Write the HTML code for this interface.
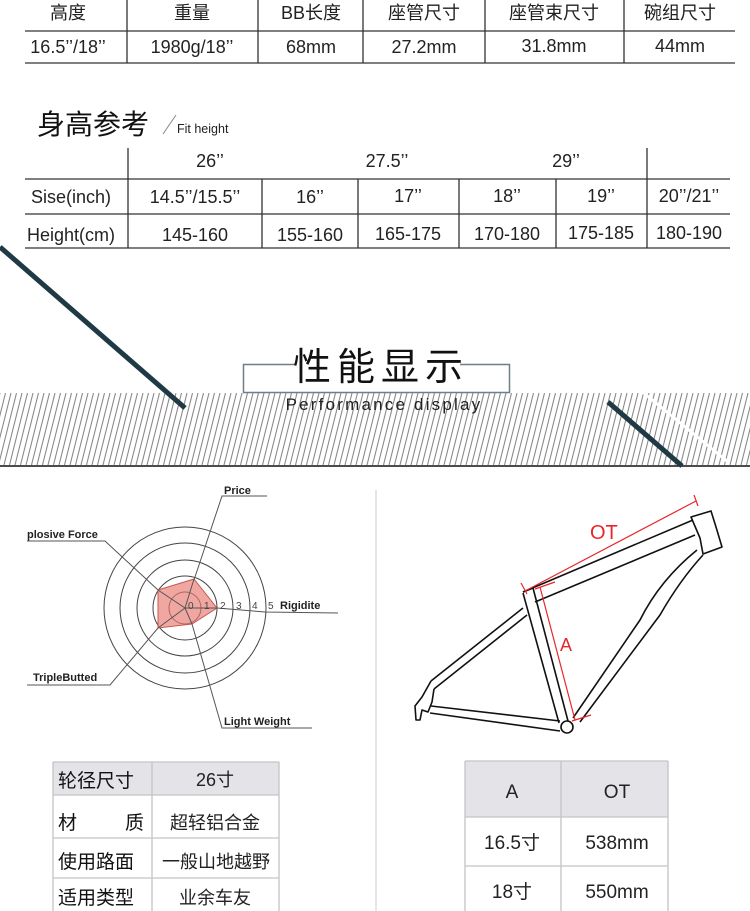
<!DOCTYPE html>
<html><head><meta charset="utf-8"><style>
body{margin:0;background:#fff;width:750px;height:911px;overflow:hidden;}
svg{display:block;font-family:"Liberation Sans","Noto Sans CJK SC",sans-serif;}
</style></head><body>
<svg width="750" height="911" viewBox="0 0 750 911" xmlns="http://www.w3.org/2000/svg">
<defs>
<pattern id="h" patternUnits="userSpaceOnUse" width="5.5" height="72" x="0" y="393">
<line x1="-18" y1="72" x2="0" y2="0" stroke="#8a8a8a" stroke-width="1.1"/>
<line x1="-12.5" y1="72" x2="5.5" y2="0" stroke="#8a8a8a" stroke-width="1.1"/>
<line x1="-7" y1="72" x2="11" y2="0" stroke="#8a8a8a" stroke-width="1.1"/>
<line x1="-1.5" y1="72" x2="16.5" y2="0" stroke="#8a8a8a" stroke-width="1.1"/>
<line x1="4" y1="72" x2="22" y2="0" stroke="#8a8a8a" stroke-width="1.1"/>
</pattern>
</defs>
<!-- top table -->
<g stroke="#333" stroke-width="1.3">
<line x1="25" y1="31" x2="735" y2="31"/><line x1="25" y1="63" x2="735" y2="63"/>
<line x1="127" y1="0" x2="127" y2="63"/><line x1="258" y1="0" x2="258" y2="63"/>
<line x1="363" y1="0" x2="363" y2="63"/><line x1="485" y1="0" x2="485" y2="63"/>
<line x1="624" y1="0" x2="624" y2="63"/>
</g>
<g font-size="18" fill="#222" text-anchor="middle">
<text x="68" y="19">高度</text><text x="192" y="19">重量</text><text x="311" y="19">BB长度</text>
<text x="424" y="19">座管尺寸</text><text x="554" y="19">座管束尺寸</text><text x="680" y="19">碗组尺寸</text>
<text x="68" y="53">16.5’’/18’’</text><text x="192" y="53">1980g/18’’</text><text x="311" y="53">68mm</text>
<text x="424" y="53">27.2mm</text><text x="554" y="52">31.8mm</text><text x="680" y="52">44mm</text>
</g>
<text x="37" y="134" font-size="28" fill="#111">身高参考</text>
<line x1="163" y1="134" x2="176" y2="115" stroke="#888" stroke-width="1"/>
<text x="177" y="133" font-size="12.5" fill="#222">Fit height</text>
<!-- height table -->
<g stroke="#333" stroke-width="1.3">
<line x1="25" y1="179" x2="730" y2="179"/><line x1="25" y1="214" x2="730" y2="214"/><line x1="25" y1="248" x2="730" y2="248"/>
<line x1="128" y1="148" x2="128" y2="248"/><line x1="647" y1="148" x2="647" y2="248"/>
<line x1="262" y1="179" x2="262" y2="248"/><line x1="358" y1="179" x2="358" y2="248"/>
<line x1="459" y1="179" x2="459" y2="248"/><line x1="556" y1="179" x2="556" y2="248"/>
</g>
<g font-size="18" fill="#222" text-anchor="middle">
<text x="210" y="167">26’’</text><text x="387" y="167">27.5’’</text><text x="566" y="167">29’’</text>
<text x="71" y="203">Sise(inch)</text><text x="195" y="203">14.5’’/15.5’’</text><text x="310" y="203">16’’</text>
<text x="408" y="202">17’’</text><text x="507" y="202">18’’</text><text x="601" y="202">19’’</text><text x="689" y="202">20’’/21’’</text>
<text x="71" y="241">Height(cm)</text><text x="195" y="241">145-160</text><text x="310" y="241">155-160</text>
<text x="408" y="240">165-175</text><text x="507" y="240">170-180</text><text x="601" y="239">175-185</text><text x="689" y="239">180-190</text>
</g>
<!-- hatch band -->
<rect x="0" y="393" width="750" height="72" fill="url(#h)"/>
<line x1="0" y1="466" x2="750" y2="466" stroke="#111" stroke-width="1.5"/>
<line x1="640" y1="390" x2="728" y2="462" stroke="#fff" stroke-width="3"/>
<line x1="0" y1="247" x2="185" y2="408" stroke="#1f3a44" stroke-width="5"/>
<line x1="608" y1="402" x2="682" y2="466" stroke="#1f3a44" stroke-width="5"/>
<!-- title box -->
<rect x="243.5" y="364.5" width="266" height="28" fill="#fff" stroke="#6d7f88" stroke-width="1.5"/>
<rect x="295" y="355" width="165" height="20" fill="#fff"/>
<text x="381" y="380" font-size="38" fill="#111" text-anchor="middle" letter-spacing="6">性能显示</text>
<text x="384" y="410" font-size="17" fill="#222" text-anchor="middle" letter-spacing="2.2">Performance display</text>
<line x1="376" y1="490" x2="376" y2="911" stroke="#ccc" stroke-width="1"/>
<!-- radar -->
<g fill="none" stroke="#444" stroke-width="1">
<circle cx="185" cy="608" r="16"/><circle cx="185" cy="608" r="32"/><circle cx="185" cy="608" r="48"/>
<circle cx="185" cy="608" r="65"/><circle cx="185" cy="608" r="81"/>
</g>
<polygon points="194,579 217,608 192,624 158,628 158,590" fill="#e8786e" fill-opacity="0.65" stroke="#c9574f" stroke-width="1"/>
<g stroke="#555" stroke-width="1" fill="none">
<line x1="185" y1="608" x2="194" y2="579"/><line x1="185" y1="608" x2="217" y2="608"/>
<line x1="185" y1="608" x2="192" y2="624"/><line x1="185" y1="608" x2="158" y2="628"/><line x1="185" y1="608" x2="158" y2="590"/>
<polyline points="194,580 222,496 267,496"/>
<polyline points="158,590 105,541 27,541"/>
<polyline points="158,628 110,685 27,685"/>
<polyline points="217,608 265,612 338,613"/>
<polyline points="192,624 222,728 312,728"/>
</g>
<g font-size="10" fill="#444"><text x="188" y="609">0</text><text x="204" y="609">1</text><text x="220" y="609">2</text><text x="236" y="609">3</text><text x="252" y="609">4</text><text x="268" y="609">5</text></g>
<g font-size="11" font-weight="bold" fill="#222">
<text x="224" y="494">Price</text><text x="27" y="538">plosive Force</text><text x="280" y="609">Rigidite</text>
<text x="33" y="681">TripleButted</text><text x="224" y="725">Light Weight</text>
</g>
<!-- frame -->
<g fill="none" stroke="#111" stroke-width="1.6" stroke-linejoin="round">
<path d="M691,517 L711,511 L716,527 L722,547 L703,554 L700,538 Z"/>
<line x1="523" y1="592" x2="693" y2="520"/><line x1="535" y1="602" x2="695" y2="535"/>
<line x1="523" y1="593" x2="559" y2="723"/><line x1="533" y1="588" x2="568" y2="721"/>
<line x1="523" y1="592" x2="533" y2="588"/>
<path d="M697,550 Q660,580 640,620 L573,718"/><path d="M703,555 Q680,580 660,615 L580,722"/>
<line x1="523" y1="608" x2="431" y2="681"/><line x1="527" y1="615" x2="434" y2="689"/>
<line x1="431" y1="706" x2="560" y2="721"/><line x1="430" y1="713" x2="560" y2="731"/>
<path d="M431,681 L422,697 L415,706 L416,720 L420,720 L422,710 L428,712 L432,702 L434,689"/>
<circle cx="567" cy="727" r="6"/>
</g>
<g stroke="#e8262a" stroke-width="1.2">
<line x1="525" y1="591" x2="696" y2="501"/><line x1="521" y1="583" x2="527" y2="594"/><line x1="694" y1="495" x2="698" y2="506"/>
<line x1="540" y1="587" x2="575" y2="720"/><line x1="535" y1="589" x2="555" y2="582"/><line x1="572" y1="721" x2="591" y2="715"/>
</g>
<text x="590" y="539" font-size="20" fill="#e8262a">OT</text>
<text x="560" y="651" font-size="18" fill="#e8262a">A</text>
<!-- left table -->
<rect x="53" y="762" width="226" height="33" fill="#e4e4e8"/>
<g stroke="#c4c4c4" stroke-width="1.3">
<line x1="53" y1="762" x2="279" y2="762"/><line x1="53" y1="795" x2="279" y2="795"/>
<line x1="53" y1="838" x2="279" y2="838"/><line x1="53" y1="878" x2="279" y2="878"/>
<line x1="53" y1="762" x2="53" y2="911"/><line x1="152" y1="762" x2="152" y2="911"/><line x1="279" y1="762" x2="279" y2="911"/>
</g>
<g font-size="19" fill="#111">
<text x="58" y="787">轮径尺寸</text><text x="58" y="829">材</text><text x="125" y="829">质</text>
<text x="58" y="868">使用路面</text><text x="58" y="904">适用类型</text>
</g>
<g font-size="18" fill="#222" text-anchor="middle">
<text x="215" y="786">26寸</text><text x="215" y="829">超轻铝合金</text><text x="216" y="868">一般山地越野</text><text x="215" y="904">业余车友</text>
</g>
<!-- right table -->
<rect x="465" y="761" width="203" height="56" fill="#e4e4e8"/>
<g stroke="#c4c4c4" stroke-width="1.3">
<line x1="465" y1="761" x2="668" y2="761"/><line x1="465" y1="817" x2="668" y2="817"/><line x1="465" y1="866" x2="668" y2="866"/>
<line x1="465" y1="761" x2="465" y2="911"/><line x1="561" y1="761" x2="561" y2="911"/><line x1="668" y1="761" x2="668" y2="911"/>
</g>
<g font-size="19" fill="#222" text-anchor="middle">
<text x="512" y="798">A</text><text x="617" y="798">OT</text>
<text x="512" y="849">16.5寸</text><text x="617" y="849">538mm</text>
<text x="512" y="898">18寸</text><text x="617" y="898">550mm</text>
</g>
</svg>
</body></html>
